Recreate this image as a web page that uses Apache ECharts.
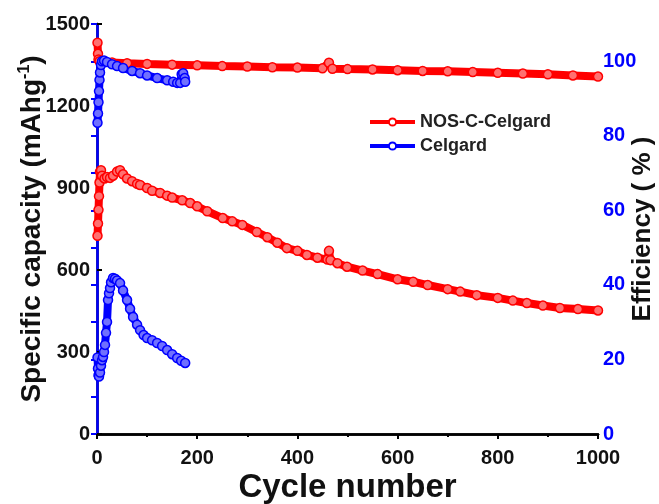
<!DOCTYPE html>
<html>
<head>
<meta charset="utf-8">
<script src="https://cdn.jsdelivr.net/npm/echarts@6/dist/echarts.min.js"></script>
<style>
    html, body { margin: 0; padding: 0; background: #fff; }
    #main { width: 659px; height: 504px; }
</style>
</head>
<body>
<div id="main"></div>
<script>
// NOS-C-Celgard capacity (mAh/g)
var nosCapCycles = [1, 2, 3, 4, 5, 6, 8, 10, 15, 20, 26, 32, 40, 46, 52, 60, 70, 80, 86, 100, 110, 126, 140, 150, 170, 186, 200, 220, 251, 270, 290, 319, 340, 360, 379, 400, 419, 440, 460, 463, 466, 480, 499, 530, 560, 600, 631, 660, 700, 725, 758, 800, 830, 858, 890, 924, 960, 1000];
var nosCapValues = [725, 770, 820, 870, 920, 960, 965, 945, 935, 940, 937, 945, 960, 965, 950, 935, 925, 915, 911, 900, 890, 882, 872, 865, 855, 845, 833, 815, 790, 778, 765, 739, 720, 700, 680, 670, 655, 645, 638, 670, 636, 625, 612, 598, 585, 566, 557, 545, 530, 521, 508, 498, 488, 479, 470, 461, 457, 452];
// NOS-C-Celgard coulombic efficiency (%)
var nosEffCycles = [1, 2, 3, 5, 10, 30, 60, 100, 150, 200, 250, 300, 350, 400, 450, 463, 470, 500, 550, 600, 650, 700, 750, 800, 850, 900, 950, 1000];
var nosEffValues = [105, 102, 100.5, 100, 99.8, 99.7, 99.5, 99.3, 99.1, 98.9, 98.7, 98.6, 98.4, 98.3, 98.1, 99.6, 98.0, 97.9, 97.8, 97.6, 97.4, 97.3, 97.1, 96.9, 96.7, 96.5, 96.2, 95.9];
// Celgard capacity (mAh/g)
var celCapCycles = [1, 2, 3, 4, 6, 8, 10, 12, 14, 16, 18, 20, 22, 24, 26, 28, 32, 36, 40, 46, 52, 60, 66, 72, 80, 86, 93, 100, 110, 120, 130, 140, 150, 160, 168, 176];
var celCapValues = [280, 240, 215, 210, 225, 250, 270, 282, 300, 326, 370, 410, 490, 515, 534, 555, 571, 568, 562, 552, 525, 490, 458, 428, 400, 380, 362, 351, 343, 333, 322, 307, 292, 278, 268, 260];
// Celgard coulombic efficiency (%)
var celEffCycles = [1, 2, 3, 4, 5, 6, 8, 10, 14, 20, 30, 40, 52, 70, 86, 100, 120, 140, 152, 160, 166, 169, 172, 175, 176];
var celEffValues = [83.5, 86, 89, 92, 95, 97, 99, 100, 100.2, 99.8, 99.2, 98.7, 98.2, 97.4, 96.8, 96.2, 95.5, 94.9, 94.5, 94.2, 94.2, 96.5, 96.8, 95.5, 94.5];

var xTicks = [0, 200, 400, 600, 800, 1000];
var capTicks = [0, 300, 600, 900, 1200, 1500];
var effTicks = [0, 20, 40, 60, 80, 100];

var RED = '#ff0000';
var BLUE = '#0000ff';
var FONT = 'Liberation Sans, Arial, sans-serif';

function zip(xs, ys) {
    var out = [];
    for (var i = 0; i < xs.length; i++) {
        out.push([xs[i], ys[i]]);
    }
    return out;
}

function makeSeries(name, color, fill, yIndex, xs, ys) {
    return {
        name: name,
        type: 'line',
        yAxisIndex: yIndex,
        data: zip(xs, ys),
        symbol: 'circle',
        symbolSize: 9,
        showAllSymbol: true,
        itemStyle: { color: fill, borderColor: color, borderWidth: 1.5 },
        lineStyle: { color: color, width: 8 },
        animation: false
    };
}

var myChart = echarts.init(document.getElementById('main'));
var option = {
    backgroundColor: '#fff',
    grid: { left: 97, right: 61, top: 24, bottom: 70, outerBoundsMode: 'none', containLabel: false },
    legend: {
        data: ['NOS-C-Celgard', 'Celgard'],
        orient: 'vertical',
        left: 363,
        top: 108,
        itemWidth: 45,
        itemHeight: 9,
        itemGap: 6,
        textStyle: { fontFamily: FONT, fontWeight: 'bold', fontSize: 18, color: '#222' },
        lineStyle: { width: 4 },
        itemStyle: { color: '#fff', borderWidth: 2 }
    },
    xAxis: [{
        type: 'value',
        min: 0,
        max: 1000,
        interval: 200,
        name: 'Cycle number',
        nameLocation: 'middle',
        nameGap: 37,
        nameMoveOverlap: false,
        nameTextStyle: { fontFamily: FONT, fontWeight: 'bold', fontSize: 33, color: '#111' },
        axisLine: { lineStyle: { color: '#000', width: 2.5 } },
        axisTick: { inside: false, length: 5, lineStyle: { width: 2 } },
        minorTick: { show: true, splitNumber: 2, length: 3, lineStyle: { color: '#000', width: 2 } },
        splitLine: { show: false },
        axisLabel: {
            margin: 14,
            fontFamily: FONT, fontWeight: 'bold', fontSize: 20, color: '#111',
            formatter: function (v) { return xTicks.indexOf(v) >= 0 ? String(v) : ''; }
        }
    }, {
        type: 'value',
        position: 'top',
        min: 0,
        max: 1000,
        axisLine: { show: true, lineStyle: { color: '#000', width: 2.5 } },
        axisTick: { show: false },
        axisLabel: { show: false },
        splitLine: { show: false }
    }],
    yAxis: [{
        type: 'value',
        min: 0,
        max: 1500,
        interval: 300,
        name: 'Specific capacity (mAhg{sup|-1})',
        nameLocation: 'middle',
        nameRotate: 90,
        nameGap: 50,
        nameMoveOverlap: false,
        nameTextStyle: {
            fontFamily: FONT, fontWeight: 'bold', fontSize: 28, color: '#111',
            rich: { sup: { fontFamily: FONT, fontWeight: 'bold', fontSize: 16, color: '#111', verticalAlign: 'top', padding: [0, 0, 14, 0] } }
        },
        axisLine: { show: true, lineStyle: { color: '#000', width: 2.5 } },
        axisTick: { show: true, inside: true, length: 5, lineStyle: { width: 2 } },
        splitLine: { show: false },
        axisLabel: {
            margin: 7,
            fontFamily: FONT, fontWeight: 'bold', fontSize: 20, color: '#111',
            formatter: function (v) { return capTicks.indexOf(v) >= 0 ? String(v) : ''; }
        }
    }, {
        type: 'value',
        position: 'right',
        min: 0,
        max: 110,
        interval: 10,
        name: 'Efficiency ( % )',
        nameLocation: 'middle',
        nameRotate: 90,
        nameGap: 32,
        nameMoveOverlap: false,
        nameTextStyle: { fontFamily: FONT, fontWeight: 'bold', fontSize: 26, color: '#111' },
        axisLine: { show: true, lineStyle: { color: BLUE, width: 2.5 } },
        axisTick: { show: true, inside: true, length: 6, lineStyle: { color: BLUE, width: 2 } },
        splitLine: { show: false },
        axisLabel: {
            margin: 5,
            fontFamily: FONT, fontWeight: 'bold', fontSize: 20, color: BLUE,
            formatter: function (v) { return effTicks.indexOf(v) >= 0 ? String(v) : ''; }
        }
    }],
    series: [
        makeSeries('NOS-C-Celgard', RED, '#ff7070', 0, nosCapCycles, nosCapValues),
        makeSeries('NOS-C-Celgard', RED, '#ff7070', 1, nosEffCycles, nosEffValues),
        makeSeries('Celgard', BLUE, '#7070ff', 0, celCapCycles, celCapValues),
        makeSeries('Celgard', BLUE, '#7070ff', 1, celEffCycles, celEffValues)
    ]
};
myChart.setOption(option);
</script>
</body>
</html>
